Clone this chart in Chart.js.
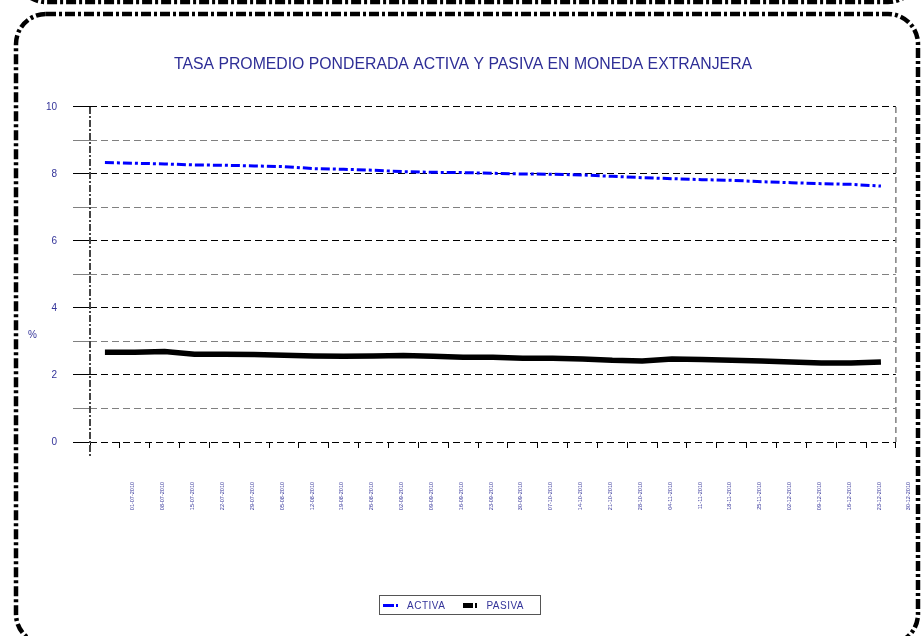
<!DOCTYPE html>
<html lang="es">
<head>
<meta charset="UTF-8">
<title>Tasa promedio ponderada activa y pasiva en moneda extranjera</title>
<style>
    body { margin: 0; background: #fff; font-family: 'Liberation Sans', Arial, sans-serif; }
    #wrap { position: relative; width: 922px; height: 636px; overflow: hidden; }
    #pct { position: absolute; left: 28px; top: 329px; font-size: 10px; color: #333399; }
    #legend {
        position: absolute; left: 379px; top: 595px; width: 160px; height: 18px;
        border: 1px solid #555; display: flex; align-items: center;
        font-size: 10px; color: #333399; letter-spacing: 0.5px;
    }
    .item { display: flex; align-items: center; margin-left: 3px; }
    .item + .item { margin-left: 18px; }
    .s { display: inline-block; }
    .lbl { margin-left: 9px; }
</style>
</head>
<body>
<div id="wrap">
    <canvas id="chart" width="922" height="636"></canvas>
    <div id="pct">%</div>
    <div id="legend">
        <div class="item">
            <span class="s" style="width:11px;height:3px;background:#0000ff"></span>
            <span class="s" style="width:2px;height:3px;background:#0000ff;margin-left:2px"></span>
            <span class="lbl">ACTIVA</span>
        </div>
        <div class="item">
            <span class="s" style="width:10px;height:5px;background:#000"></span>
            <span class="s" style="width:2px;height:5px;background:#000;margin-left:2px"></span>
            <span class="lbl">PASIVA</span>
        </div>
    </div>
</div>
<script src="https://cdn.jsdelivr.net/npm/chart.js@4"></script>
<script>
    const fechas = [
        '01-07-2010', '08-07-2010', '15-07-2010', '22-07-2010', '29-07-2010',
        '05-08-2010', '12-08-2010', '19-08-2010', '26-08-2010', '02-09-2010',
        '09-09-2010', '16-09-2010', '23-09-2010', '30-09-2010', '07-10-2010',
        '14-10-2010', '21-10-2010', '28-10-2010', '04-11-2010', '11-11-2010',
        '18-11-2010', '25-11-2010', '02-12-2010', '09-12-2010', '16-12-2010',
        '23-12-2010', '30-12-2010'
    ];
    const activa = [
        8.34, 8.32, 8.30, 8.27, 8.26, 8.24, 8.22, 8.16, 8.14, 8.11,
        8.07, 8.05, 8.04, 8.02, 8.00, 7.99, 7.97, 7.93, 7.89, 7.86,
        7.83, 7.81, 7.77, 7.74, 7.71, 7.69, 7.64
    ];
    const pasiva = [
        2.68, 2.68, 2.70, 2.62, 2.62, 2.61, 2.59, 2.57, 2.56, 2.57,
        2.58, 2.56, 2.53, 2.53, 2.50, 2.50, 2.48, 2.44, 2.42, 2.48,
        2.46, 2.44, 2.42, 2.39, 2.36, 2.36, 2.39
    ];
    const yTicks = [0, 2, 4, 6, 8, 10];

    const azul = '#333399';
    const fuente = "'Liberation Sans', Arial, sans-serif";

    function roundRectPath(ctx, x, y, w, h, r) {
        ctx.beginPath();
        ctx.moveTo(x + r, y);
        ctx.lineTo(x + w - r, y);
        ctx.arcTo(x + w, y, x + w, y + r, r);
        ctx.lineTo(x + w, y + h - r);
        ctx.arcTo(x + w, y + h, x + w - r, y + h, r);
        ctx.lineTo(x + r, y + h);
        ctx.arcTo(x, y + h, x, y + h - r, r);
        ctx.lineTo(x, y + r);
        ctx.arcTo(x, y, x + r, y, r);
        ctx.closePath();
    }

    // marcos punteados y bordes del area del grafico
    const marcos = {
        id: 'marcos',
        beforeDraw(chart) {
            const ctx = chart.ctx;
            ctx.save();
            ctx.fillStyle = '#fff';
            ctx.fillRect(0, 0, chart.width, chart.height);
            ctx.strokeStyle = '#000';
            ctx.lineWidth = 4.5;
            ctx.setLineDash([10, 3, 3, 3]);
            roundRectPath(ctx, 16, 14, 902, 630, 30);
            ctx.stroke();
            roundRectPath(ctx, 16, -400, 902, 402, 30);
            ctx.stroke();
            ctx.restore();
        },
        beforeDatasetsDraw(chart) {
            const { ctx, chartArea: a } = chart;
            ctx.save();
            ctx.strokeStyle = '#444';
            ctx.lineWidth = 2;
            ctx.setLineDash([7, 2, 2, 2]);
            ctx.beginPath();
            ctx.moveTo(a.left, a.top);
            ctx.lineTo(a.left, a.bottom + 16);
            ctx.stroke();
            ctx.strokeStyle = '#808080';
            ctx.lineWidth = 1.5;
            ctx.setLineDash([6, 4]);
            ctx.beginPath();
            ctx.moveTo(a.right, a.top);
            ctx.lineTo(a.right, a.bottom);
            ctx.stroke();
            ctx.restore();
        }
    };

    new Chart(document.getElementById('chart'), {
        type: 'line',
        data: {
            labels: fechas,
            datasets: [
                {
                    label: 'ACTIVA',
                    data: activa,
                    borderColor: '#0000ff',
                    borderWidth: 3,
                    borderDash: [9, 3, 3, 3],
                    pointRadius: 0,
                    tension: 0
                },
                {
                    label: 'PASIVA',
                    data: pasiva,
                    borderColor: '#000',
                    borderWidth: 5.5,
                    pointRadius: 0,
                    tension: 0
                }
            ]
        },
        options: {
            responsive: false,
            animation: false,
            devicePixelRatio: 1,
            layout: { padding: { left: 29, right: 25, top: 0, bottom: 0 } },
            plugins: {
                legend: { display: false },
                tooltip: { enabled: false },
                title: {
                    display: true,
                    text: 'TASA PROMEDIO PONDERADA ACTIVA Y PASIVA EN MONEDA EXTRANJERA',
                    color: '#2e2e96',
                    font: { family: fuente, size: 15.8, weight: 'normal', lineHeight: 1.2 },
                    padding: { top: 55, bottom: 33 }
                }
            },
            scales: {
                x: {
                    type: 'category',
                    offset: true,
                    afterFit(s) { s.height = 194; },
                    border: { display: false },
                    grid: {
                        drawOnChartArea: false,
                        drawTicks: true,
                        offset: true,
                        tickLength: 6,
                        tickColor: '#000'
                    },
                    ticks: {
                        autoSkip: false,
                        minRotation: 90,
                        maxRotation: 90,
                        labelOffset: 28,
                        padding: 34,
                        color: azul,
                        font: { family: fuente, size: 5.5 }
                    }
                },
                y: {
                    min: 0,
                    max: 10,
                    afterFit(s) { s.width = 61; },
                    border: { display: false, dash: [7, 4] },
                    grid: {
                        color: c => (c.tick && c.tick.value % 2 === 0) ? '#000' : '#808080',
                        tickColor: c => (c.tick && c.tick.value % 2 === 0) ? '#000' : '#808080',
                        lineWidth: 1,
                        tickLength: 17
                    },
                    ticks: {
                        stepSize: 1,
                        padding: 16,
                        color: azul,
                        font: { family: fuente, size: 10 },
                        callback: v => yTicks.includes(v) ? v : ''
                    }
                }
            }
        },
        plugins: [marcos]
    });
</script>
</body>
</html>
